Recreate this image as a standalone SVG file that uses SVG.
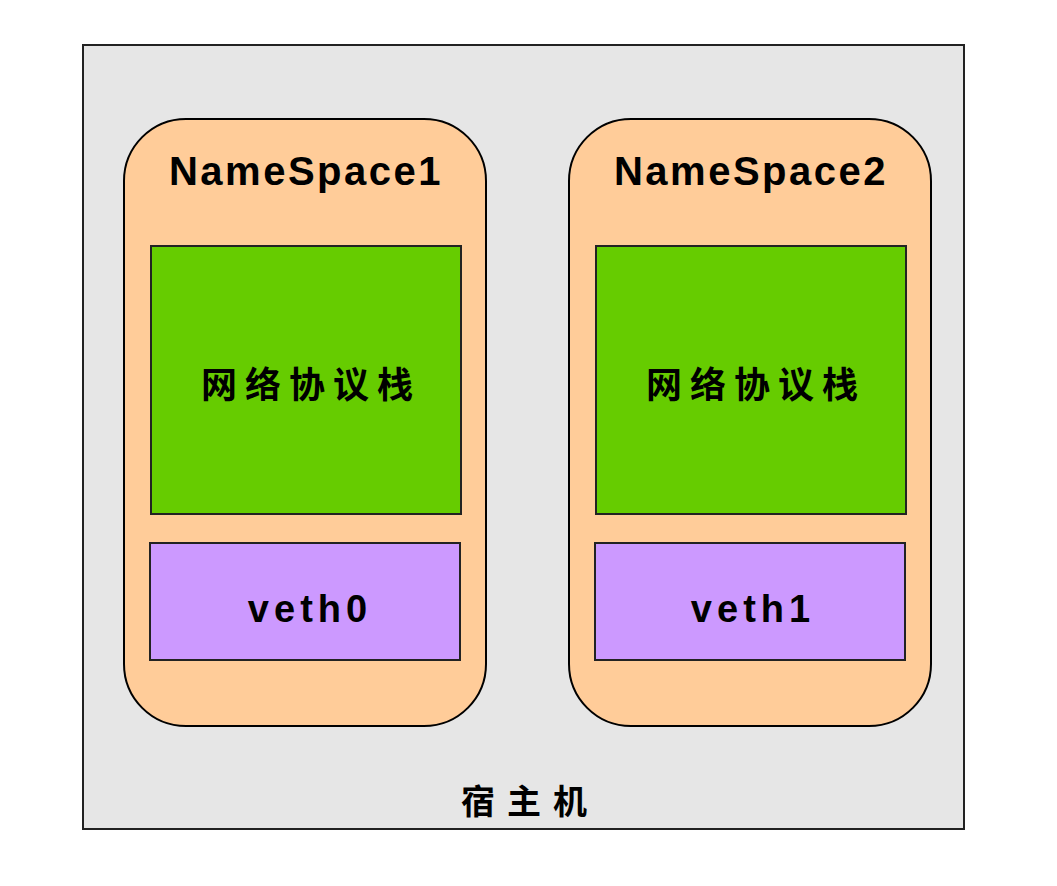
<svg xmlns="http://www.w3.org/2000/svg" width="1057" height="886" viewBox="0 0 1057 886">
<style>
.host{fill:#e6e6e6;stroke:#222;stroke-width:2}
.ns{fill:#ffcc99;stroke:#000;stroke-width:2}
.stack{fill:#66cc00;stroke:#222;stroke-width:2}
.veth{fill:#cc99ff;stroke:#222;stroke-width:2}
.t{font-family:"Comic Sans MS","Liberation Sans","Noto Sans CJK SC",sans-serif;font-weight:bold;fill:#000;text-anchor:middle}
.h{font-size:40px;letter-spacing:2.5px}
.c{font-size:36px;letter-spacing:8px}
.v{font-size:38px;letter-spacing:5px}
.m{font-size:34px;letter-spacing:12px}
</style>
<rect width="1057" height="886" fill="#fff"/>
<g id="host">
<rect class="host" x="83" y="45" width="881" height="784"/>
<text class="t m" x="530" y="814">宿主机</text>
</g>
<g id="ns1">
<rect class="ns" x="124" y="119" width="362" height="607" rx="62" ry="62"/>
<text class="t h" x="306" y="185">NameSpace1</text>
</g>
<g id="stack1">
<rect class="stack" x="151" y="246" width="310" height="268"/>
<text class="t c" x="311" y="398">网络协议栈</text>
</g>
<g id="veth0">
<rect class="veth" x="150" y="543" width="310" height="117"/>
<text class="t v" x="310" y="622">veth0</text>
</g>
<g id="ns2">
<rect class="ns" x="569" y="119" width="362" height="607" rx="62" ry="62"/>
<text class="t h" x="751" y="185">NameSpace2</text>
</g>
<g id="stack2">
<rect class="stack" x="596" y="246" width="310" height="268"/>
<text class="t c" x="756" y="398">网络协议栈</text>
</g>
<g id="veth1">
<rect class="veth" x="595" y="543" width="310" height="117"/>
<text class="t v" x="753" y="622">veth1</text>
</g>
<g id="connectors"></g>
</svg>
